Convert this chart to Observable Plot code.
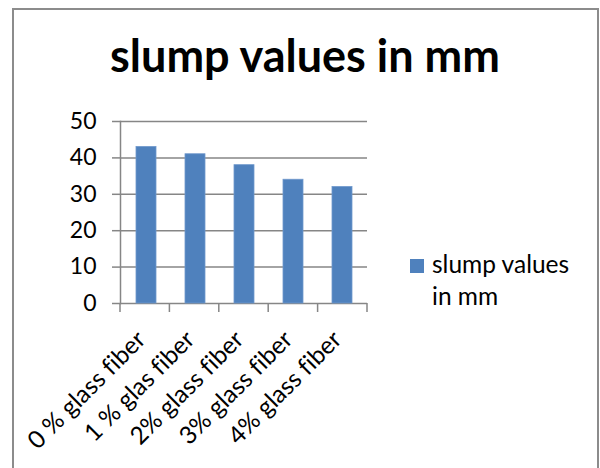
<!DOCTYPE html>
<html>
<head>
<meta charset="utf-8">
<script src="https://cdn.jsdelivr.net/npm/d3@7"></script>
<script src="https://cdn.jsdelivr.net/npm/@observablehq/plot@0.6"></script>
<style>
  html, body { margin: 0; padding: 0; background: #fff; overflow: hidden; }
  #page { position: relative; width: 600px; height: 468px; overflow: hidden; font-family: Lato, "Open Sans", sans-serif; font-variant-ligatures: none; }
  #border { position: absolute; left: 12px; top: 8px; width: 587px; height: 480px; border: 2px solid #8c8c8c; border-bottom: none; box-sizing: border-box; }
  #title { position: absolute; left: 0; top: 33px; width: 610px; text-align: center; font-weight: bold; font-size: 45px; color: #000; line-height: 45px; white-space: nowrap; }
  #chart { position: absolute; left: 0; top: 0; }
  #chart svg text { font-variant-ligatures: none; }
  #legend { position: absolute; left: 410px; top: 255px; font-size: 24.5px; line-height: 32px; color: #000; }
  #legend .sw { position: absolute; left: 0; top: 4px; width: 14px; height: 14px; background: #4f81bd; }
  #legend .lbl { position: absolute; left: 22px; top: -7.5px; white-space: nowrap; }
</style>
</head>
<body>
<div id="page">
  <div id="border"></div>
  <div id="title"></div>
  <div id="chart"></div>
  <div id="legend"><div class="sw"></div><div class="lbl"></div></div>
</div>
<script>
// Slump test results for concrete with increasing glass fibre content
const chartTitle = "slump values in mm";
const seriesName = ["slump values", "in mm"];
const categories = ["0 % glass fiber", "1 % glas fiber", "2% glass fiber", "3% glass fiber", "4% glass fiber"];
const slumpValues = [43, 41, 38, 34, 32];
const yTicks = [0, 10, 20, 30, 40, 50];

const barColor = "#4f81bd";
const gridColor = "#868686";

const data = categories.map((c, i) => ({category: c, slump: slumpValues[i]}));

document.getElementById("title").textContent = chartTitle;
document.querySelector("#legend .lbl").innerHTML = seriesName.join("<br>");

const chart = Plot.plot({
  width: 600,
  height: 468,
  marginLeft: 120,
  marginRight: 233,
  marginTop: 121,
  marginBottom: 165,
  style: {fontFamily: "Lato, 'Open Sans', sans-serif", fontSize: "20px", color: "#000", background: "transparent", overflow: "visible"},
  x: {domain: categories, paddingInner: 0.6, paddingOuter: 0.3, label: null},
  y: {domain: [0, 50], label: null},
  marks: [
    Plot.ruleY(yTicks, {stroke: gridColor, strokeWidth: 1.5}),
    Plot.axisY({ticks: yTicks, tickSize: 8, tickPadding: 16, stroke: gridColor, strokeWidth: 1.5, fontSize: 23, color: "#000", label: null}),
    Plot.frame({anchor: "left", stroke: gridColor, strokeWidth: 1.5}),
    Plot.barY(data, {x: "category", y: "slump", fill: barColor, stroke: "#6f98cc", strokeWidth: 0.8}),
    Plot.axisX({tickSize: 0, tickRotate: -45, tickPadding: 32, dx: -5, fontSize: 24.5, label: null})
  ]
});
document.getElementById("chart").appendChild(chart);

// Category ticks sit on the band boundaries, below the x axis line
const sx = chart.scale("x");
const sy = chart.scale("y");
const xs = d3.scaleBand(sx.domain, sx.range).paddingInner(sx.paddingInner ?? 0.6).paddingOuter(sx.paddingOuter ?? 0.3);
const gap = (xs.step() - xs.bandwidth()) / 2;
const bounds = categories.map(c => xs(c) - gap).concat([xs(categories[categories.length - 1]) + xs.bandwidth() + gap]);
const y0 = d3.scaleLinear(sy.domain, sy.range)(0);
d3.select(chart).append("g")
  .attr("stroke", gridColor)
  .attr("stroke-width", 1.5)
  .selectAll("line")
  .data(bounds)
  .join("line")
  .attr("x1", d => d).attr("x2", d => d)
  .attr("y1", y0).attr("y2", y0 + 9);
</script>
</body>
</html>
